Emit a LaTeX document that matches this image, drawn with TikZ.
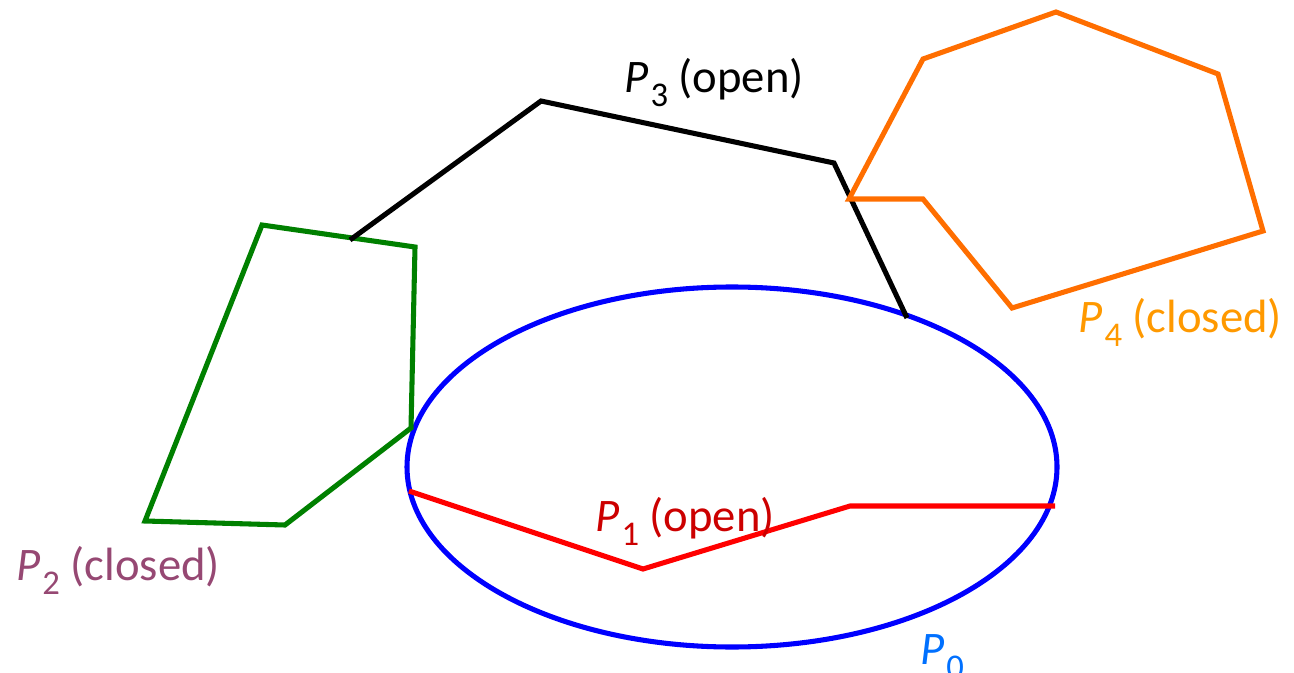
\documentclass[tikz,border=0pt]{standalone}
\usepackage{fontspec}
\setmainfont{Carlito}
\definecolor{cblue}{RGB}{0,0,255}
\definecolor{cred}{RGB}{255,0,0}
\definecolor{cpone}{RGB}{204,0,0}
\definecolor{cgreen}{RGB}{0,128,0}
\definecolor{corange}{RGB}{255,110,0}
\definecolor{cpfour}{RGB}{255,153,0}
\definecolor{cptwo}{RGB}{150,72,115}
\definecolor{cpzero}{RGB}{0,112,255}
\newcommand{\Pidx}[1]{\textit{P}\kern0.05em\raisebox{-0.3em}{\fontsize{26}{28}\selectfont #1}}
\begin{document}
\begin{tikzpicture}[x=0.75pt,y=-0.75pt,
  poly/.style={line width=3.8pt, line join=miter},
  lbl/.style={font=\fontsize{35}{38}\selectfont, inner sep=0pt}]
\useasboundingbox (0,0) rectangle (1294,673);
% P0 ellipse
\draw[cblue, line width=3.8pt] (732,467) ellipse [x radius=325, y radius=180];
% P2 green closed
\coordinate (g1) at (262,225);
\coordinate (g2) at (415,247);
\coordinate (g3) at (411,428);
\coordinate (g4) at (285,525);
\coordinate (g5) at (145,521);
\draw[poly, cgreen] (g1) -- (g2) -- (g3) -- (g4) -- (g5) -- cycle;
% P3 black open
\coordinate (b1) at (350,240);
\coordinate (b2) at (541,101);
\coordinate (b3) at (834,163);
\coordinate (b4) at (907,318);
\draw[poly, black] (b1) -- (b2) -- (b3) -- (b4);
% P4 orange closed
\coordinate (o1) at (849,199);
\coordinate (o2) at (923,59);
\coordinate (o3) at (1056,12);
\coordinate (o4) at (1218,74);
\coordinate (o5) at (1263,231);
\coordinate (o6) at (1012,308);
\coordinate (o7) at (923,199);
\draw[poly, corange] (o1) -- (o2) -- (o3) -- (o4) -- (o5) -- (o6) -- (o7) -- cycle;
% P1 red open
\coordinate (r1) at (409,491);
\coordinate (r2) at (643,569);
\coordinate (r3) at (850,506);
\coordinate (r4) at (1055,506);
\draw[poly, cred] (r1) -- (r2) -- (r3) -- (r4);
% labels
\node[lbl, text=black] (l3) at (714,83) {\Pidx{3} (open)};
\node[lbl, text=cpfour] (l4) at (1180,322) {\Pidx{4} (closed)};
\node[lbl, text=cptwo] (l2) at (118,570) {\Pidx{2} (closed)};
\node[lbl, text=cpone] (l1) at (685,521) {\Pidx{1} (open)};
\node[lbl, text=cpzero] (l0) at (942,657) {\Pidx{0}};
\end{tikzpicture}
\end{document}
